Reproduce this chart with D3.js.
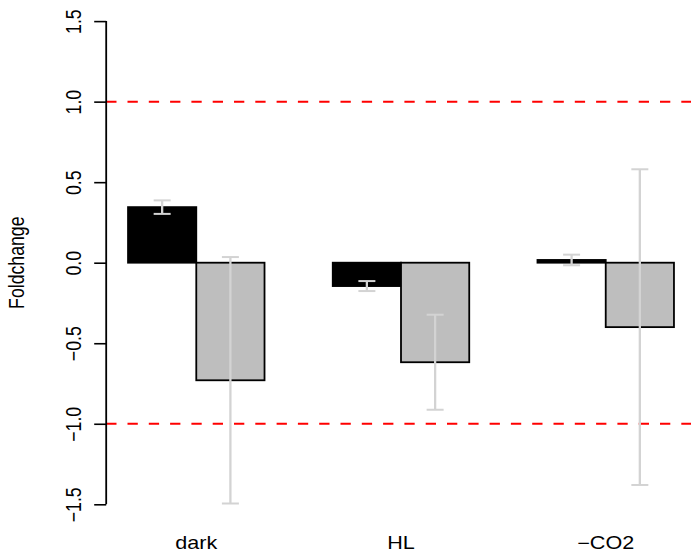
<!DOCTYPE html>
<html>
<head>
<meta charset="utf-8">
<script src="https://cdn.jsdelivr.net/npm/d3@7"></script>
<style>
  html, body { margin: 0; padding: 0; background: #fff; }
  svg { display: block; }
  text { font-family: "Liberation Sans", Arial, Helvetica, sans-serif; fill: #000; }
</style>
</head>
<body>
<svg id="chart" width="691" height="556"></svg>
<script>
// ---- data ----
const categories = ["dark", "HL", "\u2212CO2"];
const seriesNames = ["series1", "series2"];
const series1Values = [0.345, -0.145, 0.017];
const series1Errors = [0.042, 0.031, 0.033];
const series2Values = [-0.73, -0.618, -0.40];
const series2Errors = [0.765, 0.295, 0.98];
const seriesFills = ["#000000", "#bebebe"];
const yTicks = [-1.5, -1.0, -0.5, 0.0, 0.5, 1.0, 1.5];
const refLines = [1, -1];
const yLabel = "Foldchange";

// ---- layout ----
const svg = d3.select("#chart");
const plotLeft = 106.2, plotRight = 695.8;
const yTop = 21.1, yBottom = 504.3;
const fs = 17.7;      // font size (vertical metric)
const sx = 1.22;      // horizontal stretch of the original picture

// bar units as in R barplot(beside=TRUE): group g, bar j -> left edge 1 + 3g + j
const x = d3.scaleLinear().domain([0.68, 9.32]).range([plotLeft, plotRight]);
const y = d3.scaleLinear().domain([-1.5, 1.5]).range([yBottom, yTop]);

const bars = [];
categories.forEach((c, g) => {
  [series1Values, series2Values].forEach((vals, j) => {
    const errs = j === 0 ? series1Errors : series2Errors;
    bars.push({ cat: c, g, j, value: vals[g], err: errs[g], left: 1 + 3 * g + j });
  });
});

// bars
svg.append("g").selectAll("rect").data(bars).join("rect")
  .attr("x", d => x(d.left))
  .attr("width", d => x(d.left + 1) - x(d.left))
  .attr("y", d => Math.min(y(d.value), y(0)))
  .attr("height", d => Math.abs(y(d.value) - y(0)))
  .attr("fill", d => seriesFills[d.j])
  .attr("stroke", "#000")
  .attr("stroke-width", 1.8);

// reference lines
svg.append("g").selectAll("line").data(refLines).join("line")
  .attr("x1", plotLeft).attr("x2", 691)
  .attr("y1", d => y(d)).attr("y2", d => y(d))
  .attr("stroke", "#ff0000")
  .attr("stroke-width", 2)
  .attr("stroke-dasharray", "10.3,11");

// error bars
const eb = svg.append("g").attr("stroke", "#d3d3d3").attr("fill", "none");
const capHalf = 8.5;
bars.forEach(d => {
  const cx = x(d.left + 0.5);
  const y1 = y(d.value + d.err), y2 = y(d.value - d.err);
  eb.append("line").attr("x1", cx).attr("x2", cx).attr("y1", y1).attr("y2", y2).attr("stroke-width", 2.3);
  eb.append("line").attr("x1", cx - capHalf).attr("x2", cx + capHalf).attr("y1", y1).attr("y2", y1).attr("stroke-width", 2);
  eb.append("line").attr("x1", cx - capHalf).attr("x2", cx + capHalf).attr("y1", y2).attr("y2", y2).attr("stroke-width", 2);
});

// y axis
const yAxis = d3.axisLeft(y).tickValues(yTicks).tickSize(12).tickPadding(0)
  .tickFormat(d => d3.format(".1f")(d).replace("-", "\u2212"));
const ga = svg.append("g").attr("transform", `translate(${plotLeft},0)`).call(yAxis);
ga.attr("font-size", null).attr("font-family", null);
ga.select(".domain").attr("d", `M0,${y(-1.5)}V${y(1.5)}`).attr("stroke", "#000").attr("stroke-width", 1.8);
ga.selectAll(".tick line").attr("stroke", "#000").attr("stroke-width", 1.6);
ga.selectAll(".tick text")
  .attr("x", 0).attr("dy", null)
  .attr("transform", `translate(-25.2,0) scale(${sx},1) rotate(-90)`)
  .attr("text-anchor", "middle")
  .attr("font-size", fs + "px");

// y label
svg.append("text")
  .attr("transform", `translate(24,${y(0)}) scale(${sx},1) rotate(-90)`)
  .attr("text-anchor", "middle")
  .attr("font-size", fs + "px")
  .text(yLabel);

// x category labels
svg.append("g").selectAll("text").data(categories).join("text")
  .attr("transform", (d, g) => `translate(${x(1 + 3 * g + 1)},548.7) scale(${sx},1)`)
  .attr("text-anchor", "middle")
  .attr("font-size", fs + "px")
  .text(d => d);
</script>
</body>
</html>
